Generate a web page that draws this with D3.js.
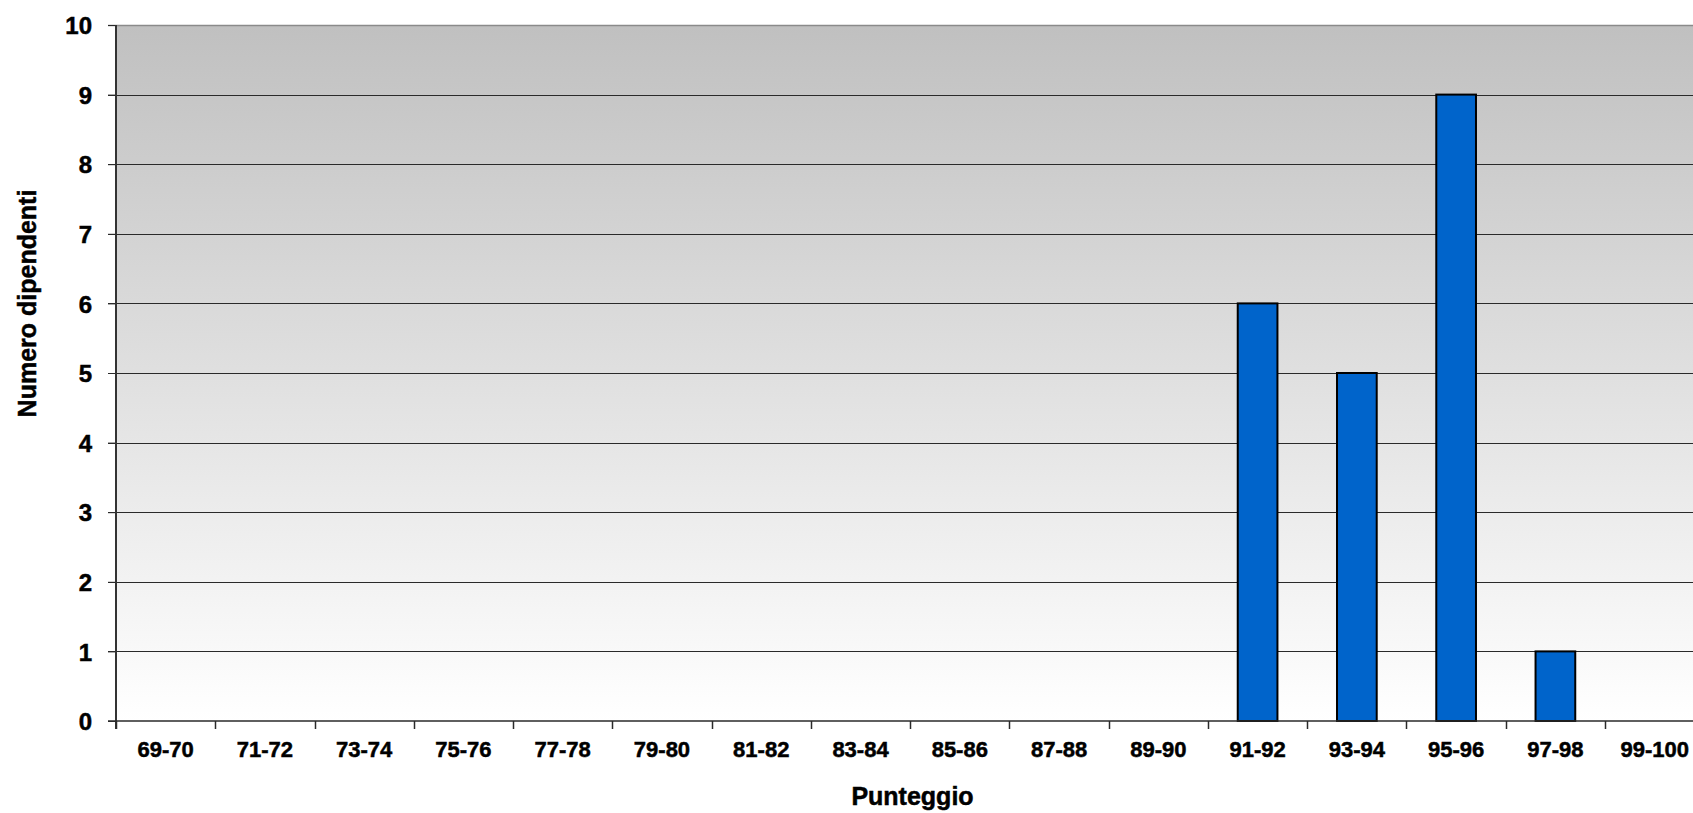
<!DOCTYPE html>
<html>
<head>
<meta charset="utf-8">
<script src="https://cdn.jsdelivr.net/npm/d3@7"></script>
<style>
  html, body { margin: 0; padding: 0; background: #fff; }
  svg { display: block; }
  text { font-family: "Liberation Sans", Arial, sans-serif; font-weight: bold; fill: #000; stroke: #000; stroke-width: 0.5px; }
</style>
</head>
<body>
<svg id="chart" width="1693" height="813"></svg>
<script>
const categories = ["69-70","71-72","73-74","75-76","77-78","79-80","81-82","83-84","85-86","87-88","89-90","91-92","93-94","95-96","97-98","99-100"];
const values = [0,0,0,0,0,0,0,0,0,0,0,6,5,9,1,0];
const yTicks = [0,1,2,3,4,5,6,7,8,9,10];
const xTitle = "Punteggio";
const yTitle = "Numero dipendenti";

(function () {
const svg = d3.select("#chart");
const pL = 116, pR = 1704.3, pT = 25, pB = 721;

const x = d3.scaleBand().domain(categories).range([pL, pR]).padding(0);
const y = d3.scaleLinear().domain([0, 10]).range([pB, pT]);

// background gradient
const defs = svg.append("defs");
const grad = defs.append("linearGradient").attr("id", "bg").attr("x1", 0).attr("y1", 0).attr("x2", 0).attr("y2", 1);
grad.append("stop").attr("offset", "0%").attr("stop-color", "#c0c0c0");
grad.append("stop").attr("offset", "100%").attr("stop-color", "#ffffff");

svg.append("rect")
  .attr("x", pL).attr("y", pT)
  .attr("width", pR - pL).attr("height", pB - pT)
  .attr("fill", "url(#bg)");

// gridlines
svg.append("g").selectAll("line")
  .data(yTicks.filter(d => d > 0))
  .join("line")
  .attr("x1", pL - 8).attr("x2", pR)
  .attr("y1", d => Math.round(y(d)) + 0.5).attr("y2", d => Math.round(y(d)) + 0.5)
  .attr("stroke", d => d === 10 ? "#8a8a8a" : "#2a2a2a")
  .attr("stroke-width", d => d === 10 ? 1.5 : 1);

// bars
const barW = x.bandwidth() * 0.4;
svg.append("g").selectAll("rect")
  .data(categories.map((c, i) => ({ c, v: values[i] })).filter(d => d.v > 0))
  .join("rect")
  .attr("x", d => x(d.c) + x.bandwidth() / 2 - barW / 2)
  .attr("y", d => y(d.v))
  .attr("width", barW)
  .attr("height", d => y(0) - y(d.v))
  .attr("fill", "#0064cb")
  .attr("stroke", "#000")
  .attr("stroke-width", 2);

// y axis
const yAxis = d3.axisLeft(y).tickValues(yTicks).tickSize(8).tickPadding(16).tickFormat(d3.format("d"));
const gy = svg.append("g").attr("transform", `translate(${pL},0)`).call(yAxis);
gy.select(".domain").remove();
gy.selectAll(".tick line").attr("stroke", "#2a2a2a");
gy.selectAll(".tick text").style("font-size", "24px").attr("dy", "0.36em")
  .style("font-family", "'Liberation Sans', Arial, sans-serif").style("font-weight", "bold");
svg.append("line").attr("x1", pL).attr("x2", pL).attr("y1", pT).attr("y2", pB + 8)
  .attr("stroke", "#333").attr("stroke-width", 2);

// x axis
svg.append("line").attr("x1", pL - 8).attr("x2", pR).attr("y1", pB).attr("y2", pB)
  .attr("stroke", "#2a2a2a").attr("stroke-width", 1.5);
const xAxis = d3.axisBottom(x).tickSize(0).tickPadding(0);
const gx = svg.append("g").attr("transform", `translate(0,${pB})`).call(xAxis);
gx.select(".domain").remove();
gx.selectAll(".tick text").attr("y", 36).attr("dy", 0)
  .style("font-size", "22px").style("font-family", "'Liberation Sans', Arial, sans-serif").style("font-weight", "bold");
svg.append("g").selectAll("line")
  .data(categories.concat(["__end"]))
  .join("line")
  .attr("x1", (d, i) => Math.round(pL + i * x.step()) + 0.5)
  .attr("x2", (d, i) => Math.round(pL + i * x.step()) + 0.5)
  .attr("y1", pB).attr("y2", pB + 8)
  .attr("stroke", "#2a2a2a").attr("stroke-width", 1.5);

// titles
svg.append("text").attr("x", 912.5).attr("y", 805).attr("text-anchor", "middle")
  .style("font-size", "25px").text(xTitle);
svg.append("text").attr("transform", "translate(36,303.5) rotate(-90)").attr("text-anchor", "middle")
  .style("font-size", "25px").text(yTitle);
})();
</script>
</body>
</html>
